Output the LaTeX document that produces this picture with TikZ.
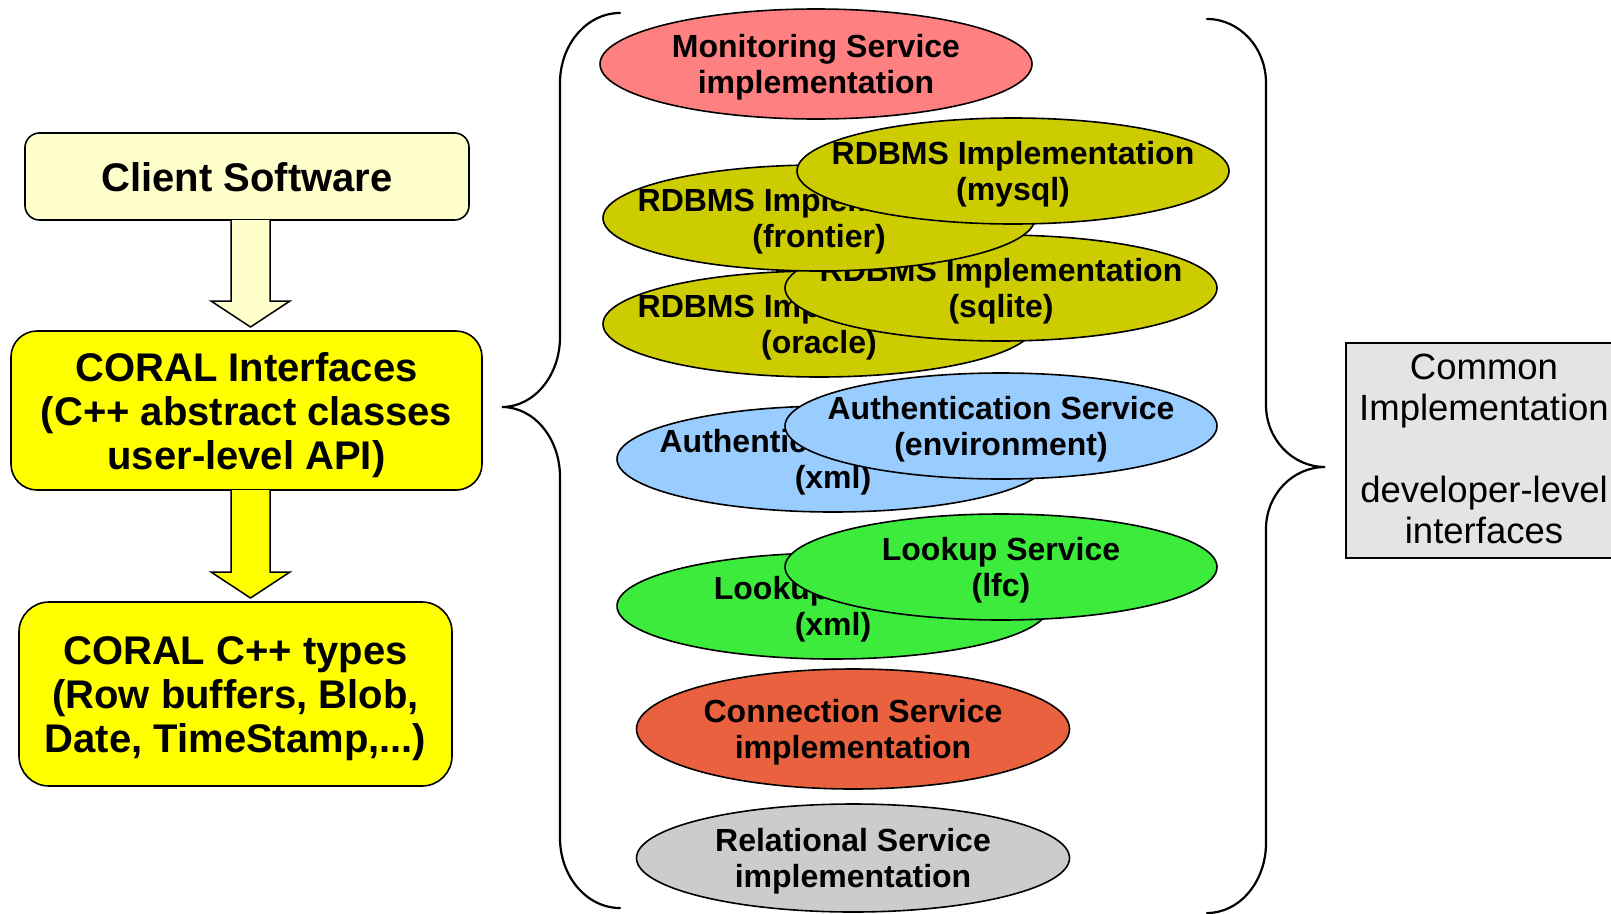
\documentclass[tikz,border=0pt]{standalone}
\usepackage{fontspec}
\setmainfont{Liberation Sans}
\usetikzlibrary{shapes.geometric,calc}

\definecolor{clientfill}{RGB}{255,255,204}
\definecolor{corefill}{RGB}{255,255,0}
\definecolor{monfill}{RGB}{255,128,128}
\definecolor{rdbmsfill}{RGB}{204,204,0}
\definecolor{authfill}{RGB}{153,204,255}
\definecolor{lookfill}{RGB}{61,235,61}
\definecolor{connfill}{RGB}{234,97,63}
\definecolor{relfill}{RGB}{204,204,204}
\definecolor{commonfill}{RGB}{228,228,228}

\begin{document}
\begin{tikzpicture}[x=1pt,y=-1pt,
  layerbox/.style={rectangle, draw=black, line width=1.6pt, rounded corners=#1,
    inner sep=0pt, outer sep=0pt, align=center,
    font=\bfseries\fontsize{40}{44}\selectfont, text depth=0pt},
  blockarrow/.style={draw=black, line width=1.5pt, line join=miter},
  brace/.style={draw=black, line width=2.2pt, line cap=round},
  impl/.style={ellipse, draw=black, line width=1.6pt, inner sep=0pt, outer sep=0pt,
    minimum width=432pt, minimum height=106pt},
  impltext/.style={align=center, inner sep=0pt,
    font=\bfseries\fontsize{32}{36}\selectfont, text height=59pt, text depth=0pt},
]
\useasboundingbox (0,0) rectangle (1611,913);
\clip (0,0) rectangle (1611,913);

% ---- user-side stack -------------------------------------------------
\node[layerbox=14.5pt, fill=clientfill, minimum width=444pt, minimum height=87pt,
      text height=29pt] (client) at (247,176.5) {Client Software};
\node[layerbox=26pt, fill=corefill, minimum width=471pt, minimum height=159pt,
      text height=117pt] (iface) at (246.5,410.5)
      {CORAL Interfaces\\(C++ abstract classes\\user-level API)};
\node[layerbox=30pt, fill=corefill, minimum width=433pt, minimum height=184pt,
      text height=117pt] (types) at (235.5,694)
      {CORAL C++ types\\(Row buffers, Blob,\\Date, TimeStamp,...)};

% block arrows between the layers
\coordinate (axis) at (250.5,0);
\coordinate (a1top) at (axis |- client.south);
\coordinate (a1tip) at ($(axis |- iface.north)+(0,-4)$);
\coordinate (a2top) at (axis |- iface.south);
\coordinate (a2tip) at ($(axis |- types.north)+(0,-4)$);
\filldraw[blockarrow, fill=clientfill]
  ($(a1top)+(-19.5,0)$) -- ($(a1tip)+(-19.5,-26)$) -- ($(a1tip)+(-39.5,-26)$)
  -- (a1tip) -- ($(a1tip)+(39.5,-26)$) -- ($(a1tip)+(19.5,-26)$) -- ($(a1top)+(19.5,0)$);
\filldraw[blockarrow, fill=corefill]
  ($(a2top)+(-19.5,0)$) -- ($(a2tip)+(-19.5,-26)$) -- ($(a2tip)+(-39.5,-26)$)
  -- (a2tip) -- ($(a2tip)+(39.5,-26)$) -- ($(a2tip)+(19.5,-26)$) -- ($(a2top)+(19.5,0)$);

% ---- braces -----------------------------------------------------------
\coordinate (lbtop) at (620,13);
\coordinate (lbtip) at (502,407);
\coordinate (lbbot) at (620,908);
\draw[brace] (lbtop) .. controls (586.9,13) and (560,44.3) .. (560,83)
  -- (560,337) .. controls (560,375.7) and (534,407) .. (lbtip)
  .. controls (534,407) and (560,438.3) .. (560,477)
  -- (560,838) .. controls (560,876.7) and (586.9,908) .. (lbbot);

\coordinate (rbtop) at (1207,19);
\coordinate (rbtip) at (1325,467);
\coordinate (rbbot) at (1207,913);
\draw[brace] (rbtop) .. controls (1239.6,19) and (1266,47.7) .. (1266,83)
  -- (1266,405) .. controls (1266,439.2) and (1292.4,467) .. (rbtip)
  .. controls (1292.4,467) and (1266,494.8) .. (1266,529)
  -- (1266,843) .. controls (1266,881.7) and (1239.6,913) .. (rbbot);

% ---- implementation plug-ins -----------------------------------------
\node[impl, fill=monfill, minimum height=110pt] (mon) at (816,64) {};
\node[impltext] (montext) at (mon.center) {Monitoring Service\\implementation};

\node[impl, fill=rdbmsfill] (oracle) at (819,324) {};
\node[impltext] (oracletext) at (oracle.center) {RDBMS Implementation\\(oracle)};
\node[impl, fill=rdbmsfill] (sqlite) at (1001,288) {};
\node[impltext] (sqlitetext) at (sqlite.center) {RDBMS Implementation\\(sqlite)};
\node[impl, fill=rdbmsfill] (frontier) at (819,218) {};
\node[impltext] (frontiertext) at (frontier.center) {RDBMS Implementation\\(frontier)};
\node[impl, fill=rdbmsfill] (mysql) at (1013,171) {};
\node[impltext] (mysqltext) at (mysql.center) {RDBMS Implementation\\(mysql)};

\node[impl, fill=authfill] (authxml) at (833,459) {};
\node[impltext] (authxmltext) at (authxml.center) {Authentication Service\\(xml)};
\node[impl, fill=authfill] (authenv) at (1001,426) {};
\node[impltext] (authenvtext) at (authenv.center) {Authentication Service\\(environment)};

\node[impl, fill=lookfill] (lookxml) at (833,606) {};
\node[impltext] (lookxmltext) at (lookxml.center) {Lookup Service\\(xml)};
\node[impl, fill=lookfill] (looklfc) at (1001,567) {};
\node[impltext] (looklfctext) at (looklfc.center) {Lookup Service\\(lfc)};

\node[impl, fill=connfill, minimum width=433pt, minimum height=120pt] (conn) at (853,729) {};
\node[impltext] (conntext) at (conn.center) {Connection Service\\implementation};
\node[impl, fill=relfill, minimum width=433pt, minimum height=108pt] (rel) at (853,858) {};
\node[impltext] (reltext) at (rel.center) {Relational Service\\implementation};

% ---- common implementation box ---------------------------------------
\node[rectangle, draw=black, line width=1.6pt, fill=commonfill, inner sep=0pt,
      minimum width=280pt, minimum height=215pt] (common) at (1486,450.5) {};
\node[align=center, inner sep=0pt, font=\fontsize{36.5}{41}\selectfont,
      text height=190pt, text depth=0pt] (commontext) at (1484,448)
      {Common\\Implementation\\[41pt]developer-level\\interfaces};
\end{tikzpicture}
\end{document}
